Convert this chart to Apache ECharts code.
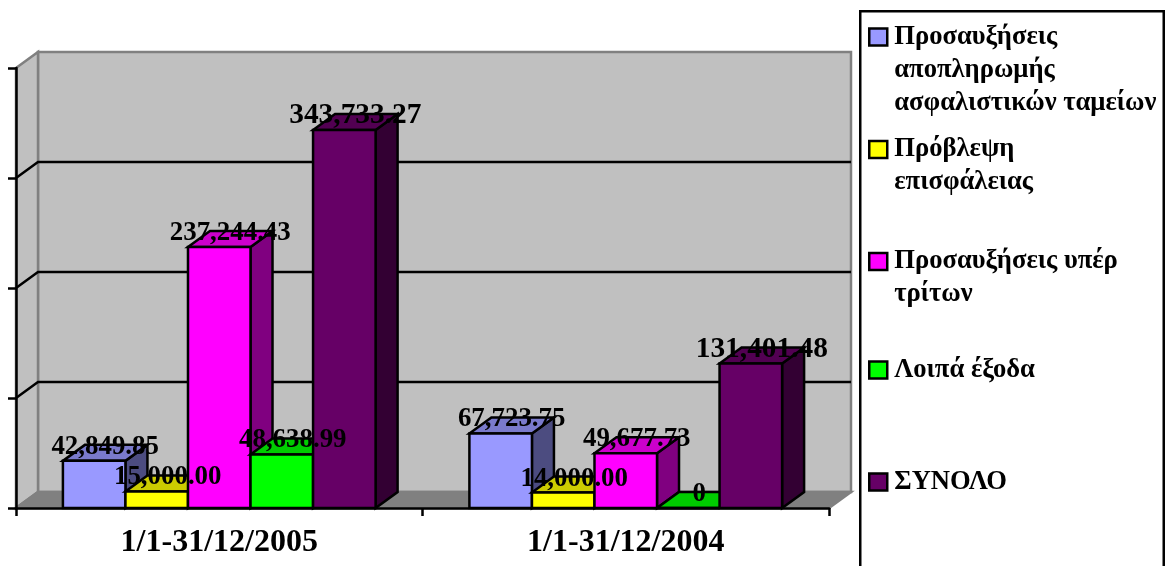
<!DOCTYPE html>
<html>
<head>
<meta charset="utf-8">
<title>Προσαυξήσεις και προβλέψεις</title>
<style>html,body{margin:0;padding:0;background:#fff}#chart{width:1169px;height:566px}</style>
<script src="https://cdn.jsdelivr.net/npm/echarts@6/dist/echarts.min.js"></script>
</head>
<body>
<div id="chart"></div>
<script>
// Reporting periods and amounts per expense line
const periods = ['1/1-31/12/2005', '1/1-31/12/2004'];
const fundSurcharges = [42849.85, 67723.75];
const doubtfulProvision = [15000.00, 14000.00];
const thirdPartySurcharges = [237244.43, 49677.73];
const otherExpenses = [48638.99, 0];
const totals = [343733.27, 131401.48];

const seriesNames = [
  'Προσαυξήσεις αποπληρωμής ασφαλιστικών ταμείων',
  'Πρόβλεψη επισφάλειας',
  'Προσαυξήσεις υπέρ τρίτων',
  'Λοιπά έξοδα',
  'ΣΥΝΟΛΟ'
];
const legendLines = [
  ['Προσαυξήσεις', 'αποπληρωμής', 'ασφαλιστικών ταμείων'],
  ['Πρόβλεψη', 'επισφάλειας'],
  ['Προσαυξήσεις υπέρ', 'τρίτων'],
  ['Λοιπά έξοδα'],
  ['ΣΥΝΟΛΟ']
];
const axisMax = 400000;
const axisStep = 100000;
const gridValues = [100000, 200000, 300000];

// Face colours: front, top, side
const palette = [
  ['#9999FF', '#7A7ACC', '#4C4C80'],
  ['#FFFF00', '#CCCC00', '#808000'],
  ['#FF00FF', '#CC00CC', '#800080'],
  ['#00FF00', '#00CC00', '#008000'],
  ['#660066', '#520052', '#330033']
];
const valueSets = [fundSurcharges, doubtfulProvision, thirdPartySurcharges, otherExpenses, totals];

// Oblique projection used for the box depth
const DX = 22, DY = 16;
const LINE = 2.5;
const serifFamily = '"Liberation Serif", serif';
const legendIconCentres = [34, 146.5, 258.5, 367, 479];
const legendLineHeight = 33;

function formatAmount(v) {
  if (v === 0) return '0';
  return v.toLocaleString('en-US', { minimumFractionDigits: 2, maximumFractionDigits: 2 });
}

// Totals carry a slightly larger value label than the individual lines
function labelFont(slot) {
  return 'bold ' + (slot === 4 ? 29.4 : 26.9) + 'px ' + serifFamily;
}

function poly(points, fill, stroke, z2) {
  return {
    type: 'polygon',
    z2: z2 || 0,
    shape: { points },
    style: { fill, stroke: stroke || null, lineWidth: stroke ? LINE : 0 }
  };
}

// Back wall, side wall, floor and the gridlines that wrap around them
function renderRoom(params, api) {
  const cs = params.coordSys;
  const x0 = cs.x, x1 = cs.x + cs.width;
  const yTop = api.coord([0, axisMax])[1];
  const yBase = api.coord([0, 0])[1];
  const edge = '#808080';
  const children = [
    poly([[x0 + DX, yTop - DY], [x1 + DX, yTop - DY], [x1 + DX, yBase - DY], [x0 + DX, yBase - DY]], '#C0C0C0', edge),
    poly([[x0, yTop], [x0 + DX, yTop - DY], [x0 + DX, yBase - DY], [x0, yBase]], '#C0C0C0', edge),
    poly([[x0, yBase], [x0 + DX, yBase - DY], [x1 + DX, yBase - DY], [x1, yBase]], '#808080', edge)
  ];
  gridValues.forEach(function (v) {
    const y = api.coord([0, v])[1];
    children.push({
      type: 'polyline',
      z2: 1,
      shape: { points: [[x0, y], [x0 + DX, y - DY], [x1 + DX, y - DY]] },
      style: { fill: null, stroke: '#000', lineWidth: LINE }
    });
  });
  return { type: 'group', children };
}

// One box per category, placed in its slot inside the category band
function boxRenderer(slot) {
  return function (params, api) {
    const band = api.size([1, 0])[0];
    const w = band / 6.5;
    const base = api.coord([api.value(0), 0]);
    const value = api.value(1);
    const top = api.coord([api.value(0), value])[1];
    const l = base[0] - 2.5 * w + slot * w;
    const r = l + w;
    const b = base[1];
    const c = palette[slot];
    const children = [
      poly([[r, top], [r + DX, top - DY], [r + DX, b - DY], [r, b]], c[2], '#000'),
      poly([[l, top], [l + DX, top - DY], [r + DX, top - DY], [r, top]], c[1], '#000'),
      poly([[l, top], [r, top], [r, b], [l, b]], c[0], '#000'),
      {
        type: 'text',
        z2: 100,
        x: (l + r) / 2 + DX / 2,
        y: top - DY + 2,
        style: {
          text: formatAmount(value),
          font: labelFont(slot),
          fill: '#000',
          align: 'center',
          verticalAlign: 'middle'
        }
      }
    ];
    return { type: 'group', children };
  };
}

const series = [{
  type: 'custom',
  name: 'room',
  z: 1,
  silent: true,
  renderItem: renderRoom,
  data: [[0, 0]],
  encode: { x: 0, y: 1 }
}].concat(seriesNames.map(function (name, i) {
  return {
    type: 'custom',
    name,
    z: 2,
    renderItem: boxRenderer(i),
    itemStyle: { color: palette[i][0] },
    data: valueSets[i].map(function (v, k) { return [k, v]; }),
    encode: { x: 0, y: 1 }
  };
}));

// One legend block per entry so each keeps its own vertical position.
// Leading blank lines keep the swatch level with the first line of wrapped text.
const legends = seriesNames.map(function (name, i) {
  const lines = legendLines[i];
  const blanks = new Array(lines.length - 1).fill(' ');
  const text = blanks.concat(lines).join('\n');
  const blockLines = blanks.length + lines.length;
  return {
    data: [name],
    orient: 'vertical',
    left: 868,
    top: legendIconCentres[i] - blockLines * legendLineHeight / 2,
    padding: 0,
    itemWidth: 18,
    itemHeight: 17,
    itemGap: 0,
    icon: 'rect',
    selectedMode: false,
    itemStyle: { color: palette[i][0], borderColor: '#000', borderWidth: 2.5 },
    textStyle: {
      fontFamily: serifFamily,
      fontWeight: 'bold',
      fontSize: 26.6,
      lineHeight: legendLineHeight,
      color: '#000',
      padding: [6, 0, 0, 2]
    },
    formatter: function () { return text; }
  };
});

const chart = echarts.init(document.getElementById('chart'), null, { renderer: 'canvas' });
chart.setOption({
  animation: false,
  backgroundColor: '#fff',
  grid: { left: 16, right: 340, top: 68, bottom: 58, containLabel: false },
  xAxis: {
    type: 'category',
    data: periods,
    z: 10,
    boundaryGap: true,
    axisLine: { show: true, lineStyle: { color: '#000', width: LINE } },
    axisTick: { show: true, length: 8, lineStyle: { color: '#000', width: LINE } },
    axisLabel: {
      fontFamily: serifFamily,
      fontWeight: 'bold',
      fontSize: 32,
      color: '#000',
      margin: 19
    }
  },
  yAxis: {
    type: 'value',
    min: 0,
    max: axisMax,
    interval: axisStep,
    z: 10,
    splitLine: { show: false },
    axisLine: { show: true, lineStyle: { color: '#000', width: LINE } },
    axisTick: { show: true, length: 8, lineStyle: { color: '#000', width: LINE } },
    axisLabel: { show: false }
  },
  legend: legends,
  graphic: [{
    type: 'rect',
    left: 859,
    top: 10,
    silent: true,
    shape: { width: 303.5, height: 620 },
    style: { fill: '#fff', stroke: '#000', lineWidth: 2.5 }
  }],
  series
});
</script>
</body>
</html>
